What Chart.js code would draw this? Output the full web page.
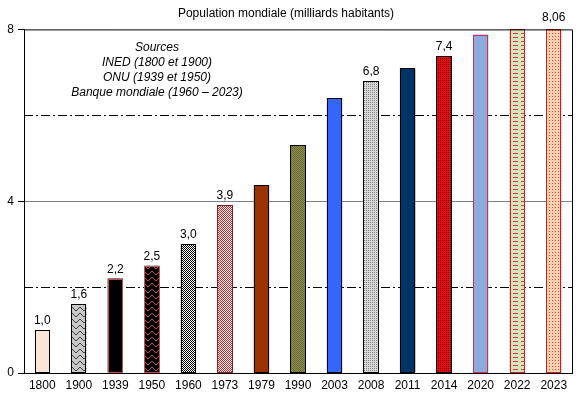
<!DOCTYPE html>
<html>
<head>
<meta charset="utf-8">
<script src="https://cdn.jsdelivr.net/npm/chart.js@4"></script>
<style>
  body { margin: 0; background: #fff; }
</style>
</head>
<body>
<canvas id="chart" width="579" height="395"></canvas>
<script>
// Data
const years = ['1800', '1900', '1939', '1950', '1960', '1973', '1979', '1990', '2003', '2008', '2011', '2014', '2020', '2022', '2023'];
const population = [1.0, 1.6, 2.2, 2.5, 3.0, 3.9, 4.37, 5.3, 6.4, 6.8, 7.09, 7.37, 7.88, 8.0, 8.06];
const valueLabels = ['1,0', '1,6', '2,2', '2,5', '3,0', '3,9', '', '', '', '6,8', '', '7,4', '', '', '8,06'];
const yTicks = [0, 4, 8];
const dashedLevels = [2, 6];
const sourceLines = ['Sources', 'INED (1800 et 1900)', 'ONU (1939 et 1950)', 'Banque mondiale (1960 \u2013 2023)'];

const canvas = document.getElementById('chart');
const ctx = canvas.getContext('2d');
const FONT = '"Liberation Sans", Arial, sans-serif';

// Small tiles used as fill patterns
function makePattern(w, h, bg, draw) {
    const tile = document.createElement('canvas');
    tile.width = w;
    tile.height = h;
    const g = tile.getContext('2d');
    g.fillStyle = bg;
    g.fillRect(0, 0, w, h);
    if (draw) draw(g);
    return ctx.createPattern(tile, 'repeat');
}

function checker(fg, bg, s) {
    return makePattern(s * 2, s * 2, bg, g => {
        g.fillStyle = fg;
        g.fillRect(0, 0, s, s);
        g.fillRect(s, s, s, s);
    });
}

function dots(fg, bg, step) {
    return makePattern(step, step, bg, g => {
        g.fillStyle = fg;
        g.fillRect(0, 0, 1, 1);
    });
}

function waves(fg, bg) {
    return makePattern(8, 6, bg, g => {
        g.strokeStyle = fg;
        g.lineWidth = 1;
        g.beginPath();
        g.moveTo(0, 1);
        g.lineTo(4, 5);
        g.lineTo(8, 1);
        g.stroke();
    });
}

function dashes(fg, bg) {
    return makePattern(8, 4, bg, g => {
        g.fillStyle = fg;
        g.fillRect(1, 1, 5, 1);
    });
}

const fills = [
    '#fbe5d6',
    waves('#404040', '#c8c8c8'),
    '#000000',
    waves('#c0504d', '#000000'),
    checker('#000000', '#ffffff', 1),
    checker('#d42020', '#ffffff', 1),
    '#993300',
    checker('#6b6b35', '#8c8c4c', 1),
    '#3366ff',
    dots('#808080', '#d9d9d9', 2),
    '#003366',
    dots('#880000', '#e01010', 2),
    '#8eaadb',
    dashes('#d04040', '#d7e4bd'),
    dots('#e05040', '#f9cfae', 3)
];
const borders = ['#000000', '#000000', '#c0504d', '#c0504d', '#000000', '#8b1a1a', '#000000', '#000000',
    '#000000', '#000000', '#000000', '#000000', '#d03050', '#cc2020', '#cc2020'];

// Frame, dash-dot lines, bar outlines, labels and sources
const extras = {
    id: 'extras',
    beforeDatasetsDraw(chart) {
        const { ctx, chartArea, scales } = chart;
        ctx.save();
        ctx.strokeStyle = '#000';
        ctx.lineWidth = 1;
        ctx.setLineDash([9, 3, 2, 3]);
        dashedLevels.forEach(v => {
            const y = Math.round(scales.y.getPixelForValue(v)) + 0.5;
            ctx.beginPath();
            ctx.moveTo(chartArea.left, y);
            ctx.lineTo(chartArea.right, y);
            ctx.stroke();
        });
        ctx.restore();
    },
    afterDatasetsDraw(chart) {
        const { ctx, chartArea } = chart;
        const meta = chart.getDatasetMeta(0);
        ctx.save();
        ctx.lineWidth = 1;

        // crisp outlines on the bars
        meta.data.forEach((bar, i) => {
            const l = Math.round(bar.x - bar.width / 2) + 0.5;
            const r = Math.round(bar.x + bar.width / 2) - 0.5;
            const t = Math.round(Math.max(bar.y, chartArea.top)) + 0.5;
            const b = Math.round(bar.base) - 0.5;
            ctx.strokeStyle = borders[i];
            ctx.strokeRect(l, t, r - l, b - t);
        });

        ctx.strokeStyle = '#000';
        ctx.beginPath();
        ctx.moveTo(chartArea.left, chartArea.top + 0.5);
        ctx.lineTo(chartArea.right + 0.5, chartArea.top + 0.5);
        ctx.lineTo(chartArea.right + 0.5, chartArea.bottom);
        ctx.stroke();

        ctx.fillStyle = '#000';
        ctx.font = '12px ' + FONT;
        ctx.textAlign = 'center';
        ctx.textBaseline = 'alphabetic';
        meta.data.forEach((bar, i) => {
            if (valueLabels[i]) ctx.fillText(valueLabels[i], bar.x, bar.y - 6);
        });

        ctx.font = 'italic 12px ' + FONT;
        ctx.textBaseline = 'middle';
        sourceLines.forEach((line, i) => {
            ctx.fillText(line, 157, 48 + i * 15);
        });
        ctx.restore();
    }
};

new Chart(ctx, {
    type: 'bar',
    data: {
        labels: years,
        datasets: [{
            data: population,
            backgroundColor: fills,
            borderWidth: 0,
            inflateAmount: 0,
            barPercentage: 0.42,
            categoryPercentage: 1
        }]
    },
    options: {
        responsive: false,
        animation: false,
        layout: { padding: { left: 0, right: 7, top: 0, bottom: 0 } },
        plugins: {
            legend: { display: false },
            tooltip: { enabled: false },
            title: {
                display: true,
                text: 'Population mondiale (milliards habitants)',
                color: '#000',
                font: { family: FONT, size: 12, weight: 'normal' },
                padding: { top: 6, bottom: 9 }
            }
        },
        scales: {
            x: {
                grid: { display: false, drawTicks: false },
                border: { color: '#000', width: 1 },
                ticks: { color: '#000', font: { family: FONT, size: 12 }, padding: 5, maxRotation: 0, autoSkip: false },
                afterFit(scale) { scale.height = 22; }
            },
            y: {
                min: 0,
                max: 8,
                afterBuildTicks(scale) { scale.ticks = yTicks.map(v => ({ value: v })); },
                grid: {
                    color: c => (c.tick && c.tick.value === 4 ? '#808080' : 'rgba(0,0,0,0)'),
                    tickColor: '#000',
                    tickLength: 6,
                    lineWidth: 1
                },
                border: { color: '#000', width: 1 },
                ticks: { color: '#000', font: { family: FONT, size: 12 }, padding: 4 },
                afterFit(scale) { scale.width = 24; }
            }
        }
    },
    plugins: [extras]
});
</script>
</body>
</html>
